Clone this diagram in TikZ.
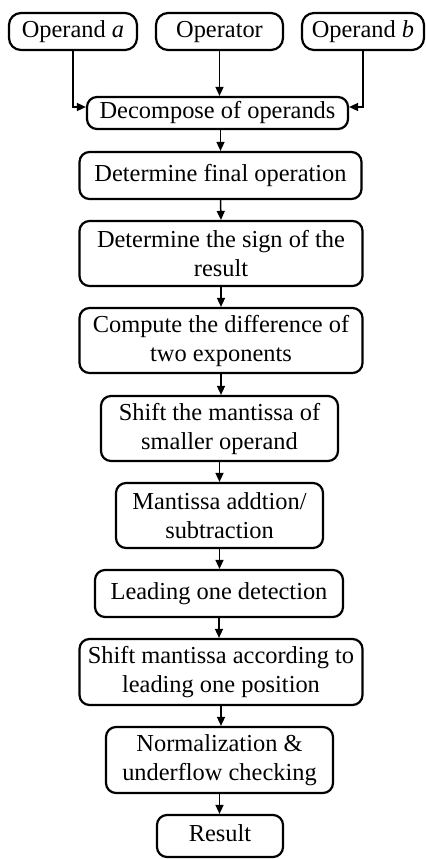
\documentclass[tikz,border=0pt]{standalone}
\usepackage{fontspec}
\setmainfont{Liberation Serif}
\usetikzlibrary{arrows.meta}

\begin{document}
\begin{tikzpicture}[x=0.5pt, y=-0.5pt,
                block/.style={draw, line width=1.1pt, rounded corners=5pt, align=center, inner sep=1pt,
                    font=\fontsize{12.2}{14.5}\selectfont},
                oneline/.style={text height=8.5pt, text depth=2.7pt},
                flow/.style={line width=0.75pt, -{Triangle[length=4.5pt, width=4pt]}}]
                \useasboundingbox (0,0) rectangle (425,859);
                \node[block, oneline, rounded corners=6pt, minimum width=64pt, minimum height=18.5pt] (opa) at (73,31.5) {Operand \textit{a}};
                \node[block, oneline, rounded corners=6pt, minimum width=63.5pt, minimum height=18.5pt] (opr) at (219.5,31.5) {Operator};
                \node[block, oneline, rounded corners=6pt, minimum width=61pt, minimum height=18.5pt] (opb) at (363,31.5) {Operand \textit{b}};
                \node[block, oneline, minimum width=130.5pt, minimum height=16pt] (dec) at (217.5,113) {Decompose of operands};
                \node[block, oneline, minimum width=141pt, minimum height=23.5pt] (fin) at (220.5,175.5) {Determine final operation};
                \node[block, minimum width=141.5pt, minimum height=32.5pt] (sgn) at (221,253.5) {Determine the sign of the\\result};
                \node[block, minimum width=141.5pt, minimum height=32.5pt] (dif) at (221,340.5) {Compute the difference of\\two exponents};
                \node[block, minimum width=118.5pt, minimum height=32.5pt] (shs) at (219.5,428.5) {Shift the mantissa of\\smaller operand};
                \node[block, minimum width=103.5pt, minimum height=32.5pt] (add) at (219.5,515.5) {Mantissa addtion/\\subtraction};
                \node[block, oneline, minimum width=124pt, minimum height=23.5pt] (lod) at (219,593.5) {Leading one detection};
                \node[block, minimum width=141.5pt, minimum height=33pt] (shl) at (221,672) {Shift mantissa according to\\leading one position};
                \node[block, minimum width=113.5pt, minimum height=33pt] (nrm) at (219.5,760) {Normalization \&\\underflow checking};
                \node[block, oneline, minimum width=63pt, minimum height=21pt] (res) at (220,836) {Result};
                \draw[flow] (opa.south) |- ([yshift=3pt]dec.west);
                \draw[flow] (opb.south) |- ([yshift=3pt]dec.east);
                \draw[flow] (opr.south) -- (opr.south |- dec.north);
                \draw[flow] (fin.north |- dec.south) -- (fin.north);
                \draw[flow] (fin.south) -- (sgn.north);
                \draw[flow] (sgn.south) -- (dif.north);
                \draw[flow] (dif.south) -- (dif.south |- shs.north);
                \draw[flow] (shs.south) -- (add.north);
                \draw[flow] (add.south) -- (add.south |- lod.north);
                \draw[flow] (lod.south) -- (lod.south |- shl.north);
                \draw[flow] (shl.south) -- (shl.south |- nrm.north);
                \draw[flow] (nrm.south) -- (nrm.south |- res.north);
            \end{tikzpicture}
\end{document}
